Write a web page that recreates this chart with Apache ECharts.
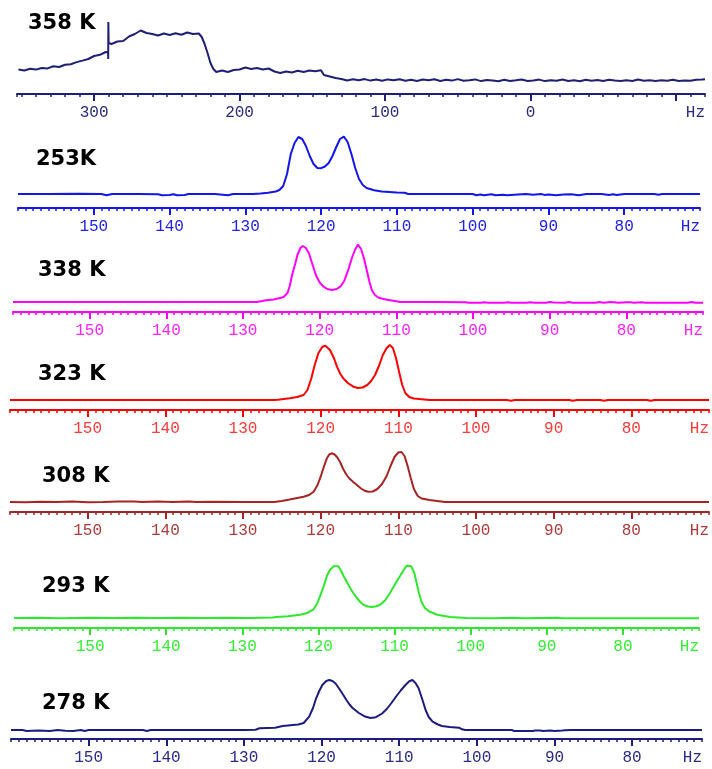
<!DOCTYPE html>
<html>
<head>
<meta charset="utf-8">
<script src="https://cdn.jsdelivr.net/npm/echarts@6/dist/echarts.min.js"></script>
<style>html,body{margin:0;padding:0;background:#fff}#c{width:712px;height:769px}</style>
</head>
<body>
<div id="c"></div>
<script>
// ---------- DATA ----------
const labels = ['358 K', '253K', '338 K', '323 K', '308 K', '293 K', '278 K'];

// 358 K (Hz, intensity)
const x358 = [352,348,344,340,336,332,328,324,320,316,312,308,304,300,296,292,290.4,290.3,290.2,290.0,288,284,280,276,272,268,264,260,256,252,248,244,240,236,232,228,226,224,222,220,218,216,212,208,204,200,196,192,188,184,180,176,172,168,164,160,156,152,148,144,142,138,134,130,126,122,118,114,110,106,102,98,94,90,86,82,78,74,70,66,62,58,54,50,46,42,38,34,30,26,22,18,14,10,6,2,-2,-6,-10,-14,-18,-22,-26,-30,-34,-38,-42,-46,-50,-54,-58,-62,-66,-70,-74,-78,-82,-86,-90,-94,-98,-102,-106,-110,-114,-118,-120];
const y358 = [10.5,9.5,11.2,10.4,12.0,11.6,13.8,13.0,15.2,15.8,17.9,19.4,21.0,24.0,25.2,28.0,27.5,21,58,37,36.0,38.5,39.0,43.5,46.0,49.5,47.0,46.0,44.5,46.5,45.0,46.8,45.2,47.5,46.0,46.5,43.0,36.0,27.0,17.0,11.0,8.0,9.5,8.0,10.0,10.5,12.5,11.0,12.0,10.5,11.5,8.5,7.0,8.5,7.5,9.2,8.0,9.5,8.8,9.8,5.0,3.5,2.0,1.0,-0.5,0.8,-0.2,0.9,-0.6,0.5,-0.8,0.6,-0.3,0.8,-0.7,0.3,-0.9,0.4,-0.2,0.7,-1.0,0.2,-0.6,0.9,-0.8,-0.2,0.6,-1.1,0.1,-0.5,-1.2,0.3,-0.9,-0.3,0.5,-1.0,-0.4,0.4,-1.1,-0.2,-0.8,0.5,-1.0,-0.3,-1.2,0.2,-0.7,-0.1,-1.0,0.3,-0.6,-1.1,-0.2,-0.9,0.4,-0.8,-0.3,-1.0,-0.2,-0.7,0.3,-0.9,-0.4,-0.8,0.2,0.5,0.8];

// 253 K
const x253 = [160,156,152,149,148.3,147.6,144,141.5,141,140,139.5,139,138,137.5,134,132.3,131.6,129,128,127,126,125.5,125,124.5,124,123.5,123,122.5,122,121.5,121,120.5,120,119.5,119,118.5,118,117.5,117,116.5,116,115.5,115,114.5,114,113,112,111,110,109,108.5,104,100,99.5,99,98.5,97.5,97,96,95.5,94,93,92,91,90.5,90,89,88,87,86,85,83,82,81.5,81,80,76,75.5,75,70];
const y253 = [0,0,0.2,0,-1.2,0,0,-0.3,-1.2,-1.0,-0.2,-1.3,-1.0,0,0,-1.2,0,0,0.5,1.2,2.5,4,8,20,40,51,57,55,48,38,30,26,25.8,27.5,31,38,47,55,57.3,52,40,26,15,9,6,3.8,2.5,2,1.5,1.2,0,0,0,-1.2,-0.6,-1.2,-0.3,-1.3,-0.8,-1.3,-0.5,0,-0.8,0,-0.9,-0.5,-1.2,-0.4,-0.2,-1.2,0,0,-0.9,-0.3,-1.0,0,0,-0.8,0,0];

// 338 K
const x338 = [160,150,140,130,128.6,128.4,128.2,127.5,127,126,125.3,124.7,124.2,123.9,123.6,123.2,122.9,122.5,122.2,121.8,121.4,121,120.5,120,119.5,119,118.4,117.8,117.3,116.8,116.2,115.8,115.4,115,114.6,114.2,113.8,113.5,113.2,112.8,112.3,111.5,111,110,109.5,105,101,100.5,99,98.5,98,96,95.5,95,93,92.5,92,90.5,90,89.5,88,87.5,87,84,83.5,83,82,81,80,79.5,79,78,77.5,72,71.5,71,70];
const y338 = [0,0,0,0,0,0.8,0,1,1.8,2.5,3.7,5,9,16,27,38,47,54,56,54,48.7,39,27,19.5,15.3,13,12,13,15.3,21,33.7,44,52,57.5,53,43,30,20,12,7,4.3,2.8,2,0.8,0,0,-0.3,-0.7,-0.7,-0.2,-0.7,-0.7,-0.2,-0.7,-0.7,-0.2,-0.7,-0.7,0,-0.6,-0.7,-0.1,-0.7,-0.7,-0.1,-0.7,-0.1,-0.7,-0.3,-0.2,-0.7,-0.2,-0.7,-0.7,0,-0.7,-0.7];

// 323 K
const x323 = [160,150,140,130,126,125.5,124,123,122.2,121.7,121.2,120.8,120.3,119.8,119.4,118.8,118.3,117.9,117.5,117.1,116.5,115.8,115.2,114.6,114,113.5,113,112.5,112,111.5,111.1,110.7,110.3,109.9,109.5,109.1,108.6,108,107,106,100,96,95.5,95,90,88,87.5,87,84,83.5,83,78,77.5,77,70];
const y323 = [0,0,0,0,0,0.3,1.7,3,5,10,21.7,34,46.7,53,54.3,50,42,33.3,26.5,21.7,17,13.3,12,12.5,15,19,25,34,45,52,55,52,42,28,15,7,3,1.5,0.8,0,0,0,-0.8,0,0,0,-0.8,0,0,-0.8,0,0,-0.8,0,0];

// 308 K
const x308 = [160,158,156,154,152,150,148,146,144,143,141,139,137,136,134,130,126,125,124,122.2,121.5,120.9,120.4,120,119.6,119.2,118.9,118.6,118.2,117.9,117.5,117.1,116.7,116.3,115.8,115.3,114.8,114.3,113.9,113.3,112.7,112.1,111.5,111,110.5,110,109.6,109.2,108.8,108.4,108,107.5,107,106,105,104,100,90,80,70];
const y308 = [0,-0.3,0.3,0,0.4,-0.2,0,0.5,0.5,0,0.4,0,0.5,0,0.2,0,0,1,2.5,5.3,7,10.3,17,25.3,35,43.7,47.5,48.7,47.5,45,40,33,27.5,23.5,20,16.8,13.5,11.2,10.2,10.5,13,18,26,36,45,49.5,50,46,36,24,13,6,3.5,2,1,0,0,0,0,0];

// 293 K
const x293 = [160,157,154,150,147,144,141,138,135,132,129,126,125.5,124,122.4,121.5,120.7,120.2,119.8,119.3,118.9,118.5,118,117.4,117,116.7,116.2,115.6,115,114.5,114.1,113.5,113,112.4,111.9,111.2,110.6,110,109.3,108.8,108.4,107.8,107.4,107.1,106.8,106.4,106,105.5,104.4,102.7,100.5,97,94.5,93,88.5,88,70];
const y293 = [0,0.3,-0.2,0.3,0,0.3,-0.1,0.3,0,0.2,0,0.5,1,1.8,3.3,5,8.3,14,21.7,32,41.7,48,51.7,51.7,47,42,35,27,20.5,16,13.3,11.5,11,11.8,13.3,18,25,33,41.7,48,52.3,51.7,45,35,25,15,10,6.7,3.3,1,0,-0.2,0.2,-0.3,0.3,-0.3,-0.3];

// 278 K
const x278 = [160,158.5,158,156.5,155,154,153,152,151,150.5,150,143,142.5,142,130,128.5,128,126,125,123,122.3,121.6,121.1,120.7,120.3,119.9,119.4,119,118.6,118.2,117.7,117.2,116.8,116.4,116,115.6,115.2,114.5,113.7,113,112.2,111.6,111,110.4,109.8,109.2,108.7,108.3,107.9,107.5,107,106.6,106.2,105.7,105,104.5,103.5,102.3,101.9,101.5,95.5,95.2,92.8,92.5,91.8,91.5,90.5,90,89,88.6,88.5,88,71];
const y278 = [0,0,-1,-0.5,-1,0,-0.8,-1,0,-1,0,0,-1,0,0,0.3,1.7,2.3,4,5.5,7,13.3,22,31.7,39,45,49,50,49,46.5,41,35,30,25.5,22,19.5,17,13.8,12,12.8,16.5,21,27,33.5,39.5,45,48.8,50,47,41.7,30,20,13,8.3,5.5,4,3,2.3,0.7,0,0,-1,-1,-0.5,-0.5,-1,-0.5,-1,-0.6,-0.3,-1,0,0];

// tick / label values
const ticks358 = [300, 200, 100, 0, -100];
const labels358 = [300, 200, 100, 0];
const ticksHz = [150, 140, 130, 120, 110, 100, 90, 80];

// ---------- LAYOUT / STYLE ----------
const W = 712, Hh = 769;
const layout = [
  {x: x358, y: y358, min: -120, max: 353, minor: 10, majors: ticks358, lbls: labels358, left: 17, rightEnd: 705, axisY: 94, baseY: 80, color: '#1f1f78', lblColor: '#2a2a80', title: [28, 13]},
  {x: x253, y: y253, min: 70, max: 160, minor: 1, majors: ticksHz, lbls: ticksHz, left: 18, rightEnd: 700, axisY: 208, baseY: 194, color: '#1414f0', lblColor: '#2020f0', title: [36, 149]},
  {x: x338, y: y338, min: 70, max: 160, minor: 1, majors: ticksHz, lbls: ticksHz, left: 13, rightEnd: 703, axisY: 312, baseY: 302, color: '#ff00ff', lblColor: '#ff22ff', title: [38, 260]},
  {x: x323, y: y323, min: 70, max: 160, minor: 1, majors: ticksHz, lbls: ticksHz, left: 10, rightEnd: 709, axisY: 410, baseY: 400, color: '#ff0000', lblColor: '#ff3a3a', title: [38, 364]},
  {x: x308, y: y308, min: 70, max: 160, minor: 1, majors: ticksHz, lbls: ticksHz, left: 10, rightEnd: 711, axisY: 512, baseY: 502, color: '#a82424', lblColor: '#b03a3a', title: [42, 466]},
  {x: x293, y: y293, min: 70, max: 160, minor: 1, majors: ticksHz, lbls: ticksHz, left: 14, rightEnd: 699, axisY: 628, baseY: 618, color: '#2ee82e', lblColor: '#33ee33', title: [42, 576]},
  {x: x278, y: y278, min: 71, max: 160, minor: 1, majors: ticksHz, lbls: ticksHz, left: 11, rightEnd: 702, axisY: 739, baseY: 730, color: '#1c1c80', lblColor: '#2a2a88', title: [42, 693]}
];

const grids = [], xAxes = [], yAxes = [], series = [], titles = [];
const GH = 80;
layout.forEach((p, i) => {
  grids.push({left: p.left, right: W - p.rightEnd, top: p.axisY - GH, bottom: Hh - p.axisY, containLabel: false});
  const yMin = -(p.axisY - p.baseY);
  yAxes.push({gridIndex: i, type: 'value', min: yMin, max: yMin + GH, show: false});
  const pmin = p.min;
  xAxes.push({
    gridIndex: i, type: 'value', inverse: true, position: 'bottom', min: p.min, max: p.max,
    axisLine: {show: true, onZero: false, lineStyle: {color: p.color, width: 2}},
    axisTick: {show: true, length: 7, customValues: p.majors, lineStyle: {color: p.color, width: 2}},
    axisLabel: {
      show: true, customValues: [p.min].concat(p.lbls), margin: 11,
      fontFamily: 'Liberation Mono', fontSize: 16, color: p.lblColor,
      alignMinLabel: 'right',
      formatter: v => (v === pmin ? 'Hz' : String(v))
    },
    splitLine: {show: false}
  });
  xAxes.push({
    gridIndex: i, type: 'value', inverse: true, position: 'bottom', min: p.min, max: p.max, interval: p.minor,
    axisLine: {show: false, onZero: false},
    axisTick: {show: true, length: 3, lineStyle: {color: p.color, width: 1.5}},
    axisLabel: {show: false},
    splitLine: {show: false}
  });
  series.push({
    type: 'line', xAxisIndex: 2 * i, yAxisIndex: i, showSymbol: false, symbol: 'none',
    lineStyle: {color: p.color, width: 2}, data: p.x.map((v, k) => [v, p.y[k]]),
    animation: false, silent: true, clip: false
  });
  titles.push({
    text: labels[i], left: p.title[0], top: p.title[1], padding: 0,
    textStyle: {fontFamily: 'DejaVu Sans', fontWeight: 'bold', fontSize: 21, color: '#000'}
  });
});

const chart = echarts.init(document.getElementById('c'), null, {renderer: 'canvas'});
chart.setOption({
  animation: false,
  backgroundColor: '#fff',
  title: titles,
  grid: grids,
  xAxis: xAxes,
  yAxis: yAxes,
  series: series
});
</script>
</body>
</html>
